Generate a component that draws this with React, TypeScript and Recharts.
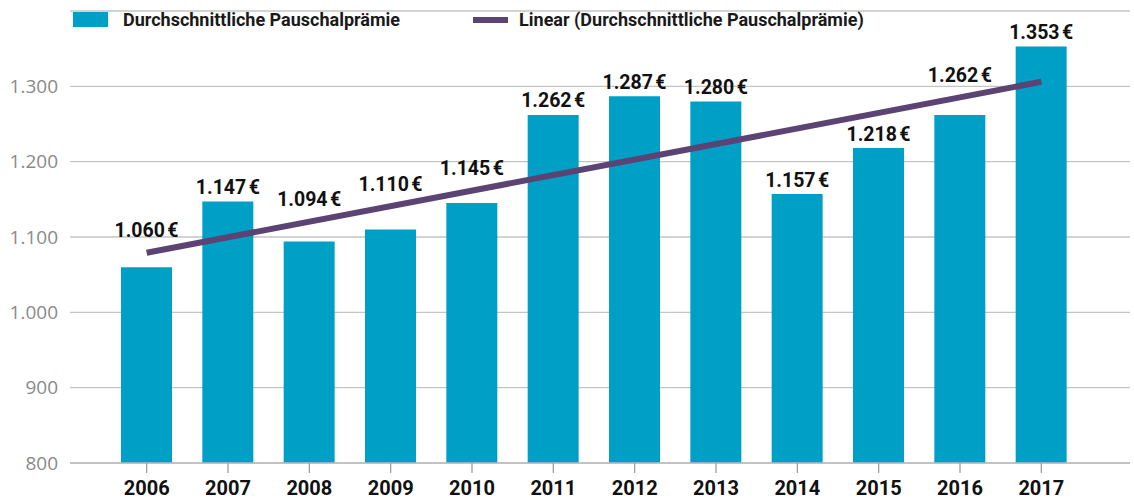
import React from 'react';
import { ComposedChart, Bar, Line, XAxis, YAxis, CartesianGrid, Legend, LabelList } from 'recharts';

const years = ['2006', '2007', '2008', '2009', '2010', '2011', '2012', '2013', '2014', '2015', '2016', '2017'];
const premiums = [1060, 1147, 1094, 1110, 1145, 1262, 1287, 1280, 1157, 1218, 1262, 1353];
// trend line as drawn: start and end points
const trendline: (number | null)[] = [1079, null, null, null, null, null, null, null, null, null, null, 1306];
const yTicks = [800, 900, 1000, 1100, 1200, 1300];
const seriesNames = ['Durchschnittliche Pauschalprämie', 'Linear (Durchschnittliche Pauschalprämie)'];

const BLUE = '#009fc6';
const PURPLE = '#5b4374';
const FONT = 'Roboto, "Noto Sans", sans-serif';

const data = years.map((year, i) => ({ year, premium: premiums[i], trend: trendline[i] }));

const fmt = (v: number) => {
  const s = String(Math.round(v));
  return s.length > 3 ? s.slice(0, -3) + '.' + s.slice(-3) : s;
};

const BarValueLabel = (props: any) => {
  const { x, y, width, height, value, index } = props;
  const cx = Number(x) + Number(width) / 2;
  const top = Number(y);
  const h = Number(height);
  const ppu = h / (Number(value) - 800);
  const first = trendline[0] as number;
  const last = trendline[trendline.length - 1] as number;
  const tv = first + ((last - first) * index) / (trendline.length - 1);
  const trendY = top + h - (tv - 800) * ppu;
  let cy = top - 14;
  if (Math.abs(cy - trendY) < 18) cy = trendY - 22;
  return (
    <text x={cx} y={cy} textAnchor="middle" dominantBaseline="central" fontFamily={FONT} fontWeight={700} fontSize={19.5} fill="#111">
      {fmt(Number(value)) + '\u202F€'}
    </text>
  );
};

const LegendContent = () => (
  <div style={{ display: 'flex', alignItems: 'center', fontFamily: FONT, fontWeight: 700, fontSize: 18, color: '#1a1a1a', whiteSpace: 'nowrap' }}>
    <span style={{ display: 'inline-block', width: 35, height: 15, background: BLUE, marginRight: 15 }} />
    <span style={{ marginRight: 73 }}>{seriesNames[0]}</span>
    <span style={{ display: 'inline-block', width: 35, height: 6, background: PURPLE, marginRight: 11 }} />
    <span>{seriesNames[1]}</span>
  </div>
);

export default function App() {
  return (
    <div style={{ position: 'absolute', left: 0, top: 0, width: 1134, height: 503, background: '#fff' }}>
      <ComposedChart width={1134} height={503} data={data} margin={{ top: 11, right: 4, left: 0, bottom: 0 }}>
        <CartesianGrid vertical={false} stroke="#c4c4c4" strokeWidth={1.3} />
        <XAxis
          dataKey="year"
          height={40}
          padding={{ left: 36, right: 48 }}
          axisLine={{ stroke: '#bcbcbc', strokeWidth: 1.3 }}
          tickLine={{ stroke: '#a0a0a0', strokeWidth: 1.3 }}
          tickSize={10}
          tickMargin={8}
          tick={{ fill: '#111', fontSize: 20, fontWeight: 700, fontFamily: FONT }}
          interval={0}
        />
        <YAxis
          width={70}
          domain={[800, 1400]}
          ticks={yTicks}
          axisLine={false}
          tickLine={false}
          tickSize={0}
          tickMargin={12}
          tickFormatter={fmt}
          tick={{ fill: '#8a8a8a', fontSize: 19, fontFamily: '"Open Sans", sans-serif' }}
        />
        <Legend layout="horizontal" verticalAlign="middle" align="center" content={LegendContent} wrapperStyle={{ top: 9, left: 73, width: 1000 }} />
        <Bar dataKey="premium" name={seriesNames[0]} fill={BLUE} barSize={51} isAnimationActive={false}>
          <LabelList dataKey="premium" content={BarValueLabel} />
        </Bar>
        <Line dataKey="trend" name={seriesNames[1]} stroke={PURPLE} strokeWidth={6} dot={false} activeDot={false} connectNulls isAnimationActive={false} />
      </ComposedChart>
    </div>
  );
}
